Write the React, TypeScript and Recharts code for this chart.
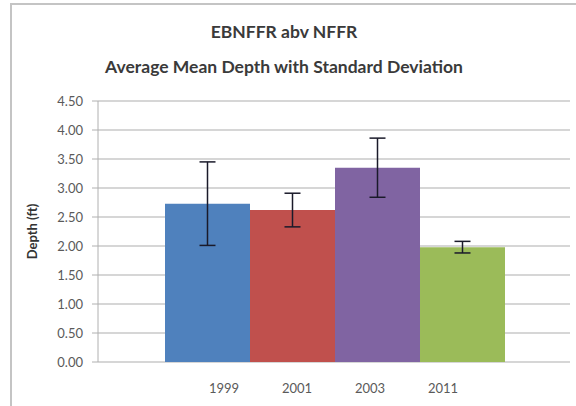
import { BarChart, Bar, XAxis, YAxis, CartesianGrid, ErrorBar } from 'recharts'

const years = ['1999', '2001', '2003', '2011']
const meanDepth = [2.73, 2.62, 3.35, 1.98]
const stdDev = [0.72, 0.29, 0.51, 0.1]
const yTicks = [0, 0.5, 1, 1.5, 2, 2.5, 3, 3.5, 4, 4.5]

const COLORS = ['#4F81BD', '#C0504D', '#8064A2', '#9BBB59']

// one category, one bar series per year (as in the Excel original)
const row: Record<string, string | number> = { name: 'Depth' }
years.forEach((y, i) => {
  row['y' + y] = meanDepth[i]
  row['e' + y] = stdDev[i]
})
const data = [row]

const font = 'Lato, "Open Sans", sans-serif'

export default function App() {
  return (
    <div style={{ position: 'absolute', left: 0, top: 0, width: 576, height: 406, background: '#fff', overflow: 'hidden', fontFamily: font }}>
      <div style={{ position: 'absolute', left: 10, top: 3, width: 580, height: 420, border: '2px solid #c4c4c4', boxSizing: 'border-box' }} />
      <div style={{ position: 'absolute', left: 0, width: 568, top: 14, textAlign: 'center', fontSize: 17.5, fontWeight: 700, color: '#3a3a3a', lineHeight: '35px' }}>
        <div>EBNFFR abv NFFR</div>
        <div>Average Mean Depth with Standard Deviation</div>
      </div>
      <div style={{ position: 'absolute', left: 0, top: 0 }}>
        <BarChart width={576} height={406} data={data} margin={{ top: 101, right: 6, bottom: 44, left: 27 }} barCategoryGap={67} barGap={0}>
          <CartesianGrid vertical={false} stroke="#c8c8c8" strokeWidth={1.3} />
          <XAxis dataKey="name" hide />
          <YAxis
            width={71}
            domain={[0, 4.5]}
            ticks={yTicks}
            interval={0}
            tickFormatter={(v: number) => v.toFixed(2)}
            tick={{ fontSize: 13, fill: '#5a5a5a', fontFamily: font }}
            tickSize={6}
            tickMargin={9}
            stroke="#b0b0b0"
            label={{ value: 'Depth (ft)', angle: -90, position: 'insideLeft', offset: 5, style: { textAnchor: 'middle', fontSize: 13, fontWeight: 700, fill: '#333', fontFamily: font } }}
          />
          {years.map((y, i) => (
            <Bar key={y} dataKey={'y' + y} fill={COLORS[i]} isAnimationActive={false}>
              <ErrorBar dataKey={'e' + y} width={8} stroke="#1a1a2a" strokeWidth={1.5} />
            </Bar>
          ))}
        </BarChart>
      </div>
      {years.map((y, i) => (
        <div key={y} style={{ position: 'absolute', top: 380, left: 188 + i * 73, width: 72, textAlign: 'center', fontSize: 13, color: '#5a5a5a' }}>
          {y}
        </div>
      ))}
    </div>
  )
}
